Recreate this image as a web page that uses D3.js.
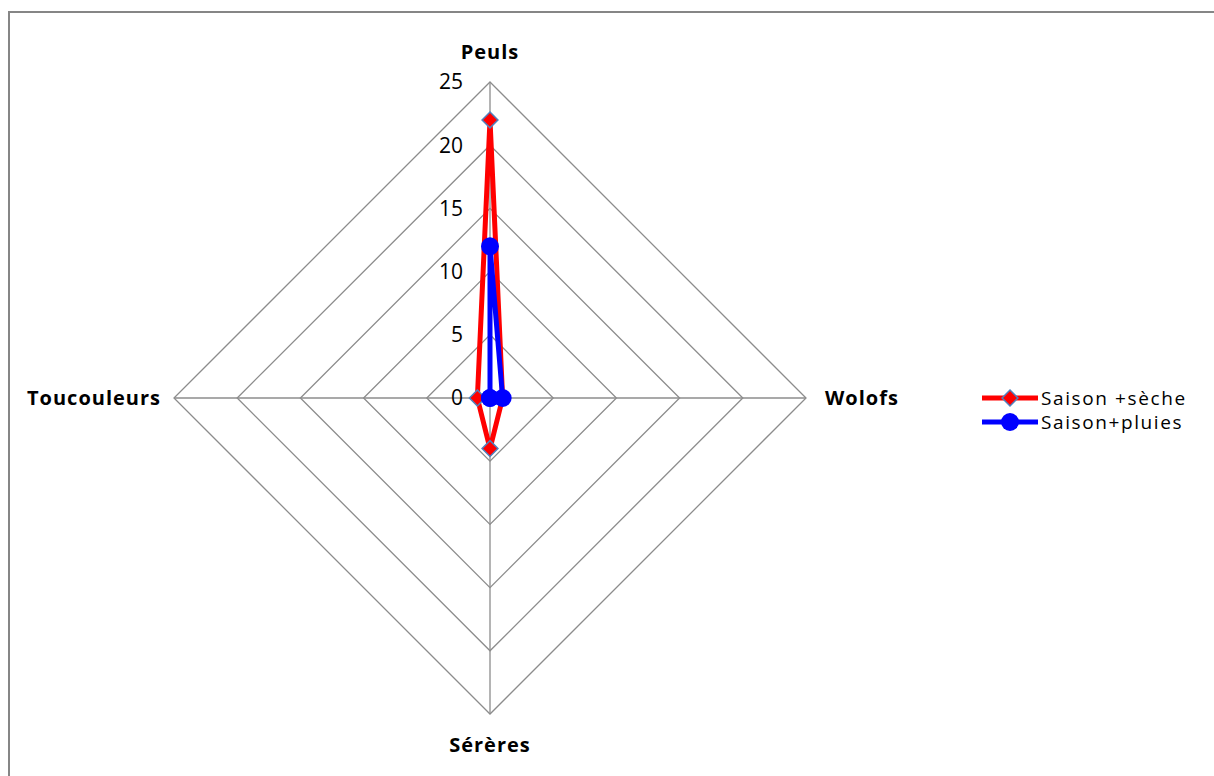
<!DOCTYPE html>
<html>
<head>
<meta charset="utf-8">
<script src="https://cdn.jsdelivr.net/npm/d3@7"></script>
<style>
  body { margin: 0; background: #fff; }
  svg { font-family: "Open Sans", "Liberation Sans", Arial, sans-serif; }
</style>
</head>
<body>
<svg id="radar" width="1214" height="776"></svg>
<script>
// Data
const axes = ["Peuls", "Wolofs", "Sérères", "Toucouleurs"];
const seche = [22, 1, 4, 1];
const pluies = [12, 1, 0, 0];
const ticks = [0, 5, 10, 15, 20, 25];
const seriesNames = ["Saison +sèche", "Saison+pluies"];

const cx = 490, cy = 398, R = 316;

const svg = d3.select("#radar");

// chart border
svg.append("rect")
  .attr("x", 9).attr("y", 12)
  .attr("width", 1230).attr("height", 800)
  .attr("fill", "none").attr("stroke", "#868686").attr("stroke-width", 2);

const r = d3.scaleLinear().domain([0, 25]).range([0, R]);
const angle = i => (i / axes.length) * 2 * Math.PI;
const pt = (i, v) => [cx + r(v) * Math.sin(angle(i)), cy - r(v) * Math.cos(angle(i))];

// grid
ticks.slice(1).forEach(t => {
  svg.append("path")
    .attr("d", d3.line()(axes.map((a, i) => pt(i, t))) + "Z")
    .attr("fill", "none").attr("stroke", "#8c8c8c").attr("stroke-width", 1.3);
});
axes.forEach((a, i) => {
  const [x2, y2] = pt(i, 25);
  svg.append("line")
    .attr("x1", cx).attr("y1", cy).attr("x2", x2).attr("y2", y2)
    .attr("stroke", "#8c8c8c").attr("stroke-width", 1.3);
});

// tick labels
ticks.forEach(t => {
  svg.append("text")
    .attr("x", cx - 27).attr("y", cy - r(t))
    .attr("dy", "0.35em")
    .attr("text-anchor", "end")
    .style("font-size", "21px")
    .text(t);
});

// axis labels
const labelPos = [
  { x: cx, y: cy - R - 30, anchor: "middle" },
  { x: cx + R + 19, y: cy, anchor: "start" },
  { x: cx, y: cy + R + 31, anchor: "middle" },
  { x: cx - R - 13, y: cy, anchor: "end" }
];
axes.forEach((a, i) => {
  svg.append("text")
    .attr("x", labelPos[i].x).attr("y", labelPos[i].y)
    .attr("dy", "0.35em")
    .attr("text-anchor", labelPos[i].anchor)
    .style("font-size", "20px").style("font-weight", "bold")
    .style("letter-spacing", "1px")
    .text(a);
});

const diamond = d3.symbol().type(d3.symbolDiamond2).size(160);

function drawSeries(vals, color, marker) {
  const pts = vals.map((v, i) => pt(i, v));
  svg.append("path")
    .attr("d", d3.line()(pts) + "Z")
    .attr("fill", "none").attr("stroke", color)
    .attr("stroke-width", 5).attr("stroke-linejoin", "round");
  pts.forEach(p => {
    if (marker === "diamond") {
      svg.append("path").attr("d", diamond)
        .attr("transform", `translate(${p[0]},${p[1]})`)
        .attr("fill", "#ff0000").attr("stroke", "#4f81bd").attr("stroke-width", 1.5);
    } else {
      svg.append("circle").attr("cx", p[0]).attr("cy", p[1]).attr("r", 9)
        .attr("fill", "#0000ff");
    }
  });
}
drawSeries(seche, "#ff0000", "diamond");
drawSeries(pluies, "#0000ff", "circle");

// legend
const legend = [
  { name: seriesNames[0], color: "#ff0000", marker: "diamond", y: 398 },
  { name: seriesNames[1], color: "#0000ff", marker: "circle", y: 422 }
];
legend.forEach(l => {
  svg.append("line")
    .attr("x1", 982).attr("x2", 1038).attr("y1", l.y).attr("y2", l.y)
    .attr("stroke", l.color).attr("stroke-width", 5);
  if (l.marker === "diamond") {
    svg.append("path").attr("d", diamond)
      .attr("transform", `translate(1010,${l.y})`)
      .attr("fill", "#ff0000").attr("stroke", "#4f81bd").attr("stroke-width", 1.5);
  } else {
    svg.append("circle").attr("cx", 1010).attr("cy", l.y).attr("r", 9).attr("fill", "#0000ff");
  }
  svg.append("text")
    .attr("x", 1041).attr("y", l.y).attr("dy", "0.35em")
    .style("font-size", "19px")
    .style("letter-spacing", "1.6px")
    .text(l.name);
});
</script>
</body>
</html>
